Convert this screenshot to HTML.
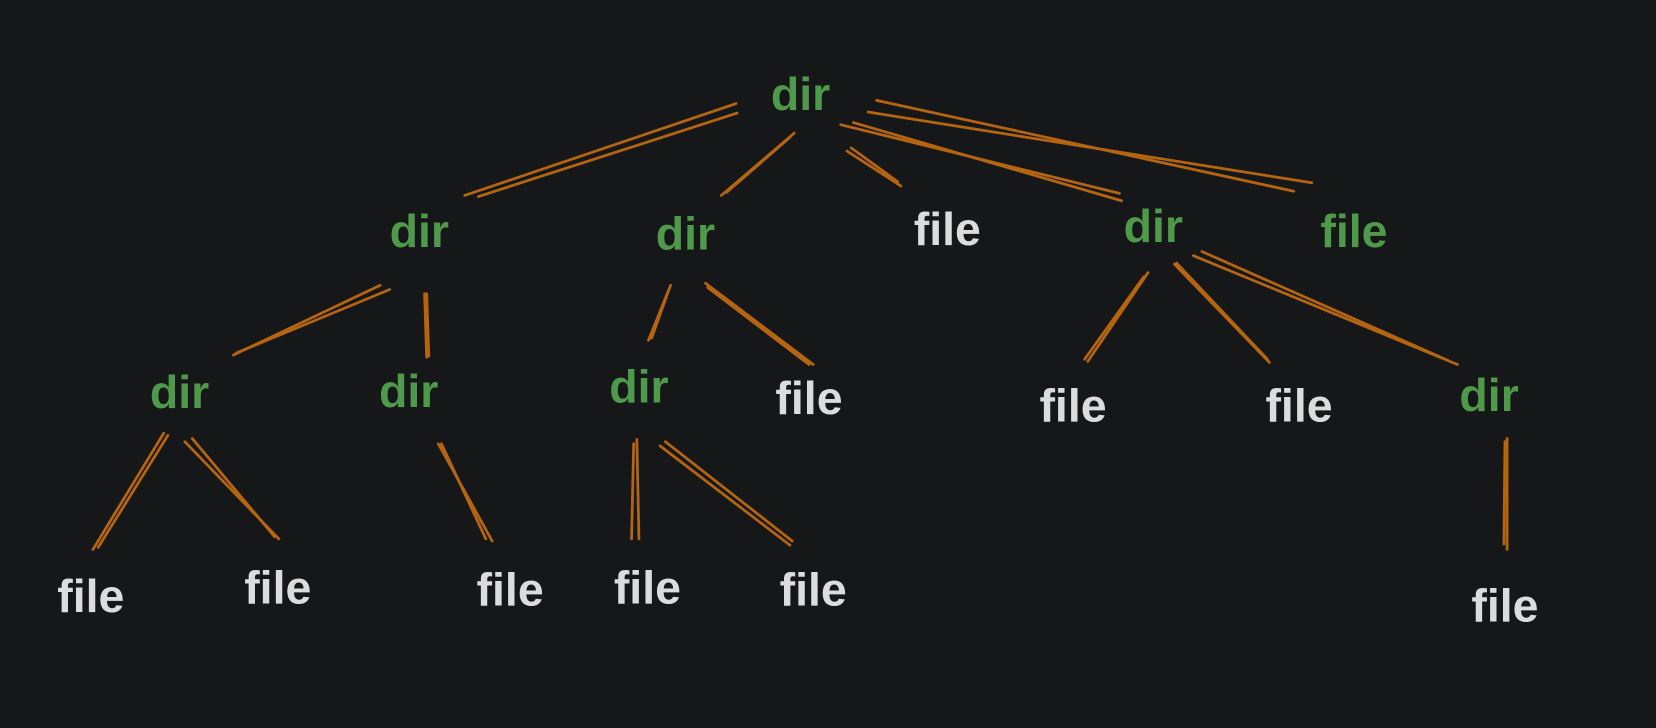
<!DOCTYPE html>
<html><head><style>
html,body{margin:0;padding:0;background:#161719;}
svg{display:block}
text{font-family:"Liberation Sans","DejaVu Sans",sans-serif;font-size:44px;font-weight:bold;text-anchor:middle}
.d{fill:#4f9a4a}.f{fill:#dcdcdc}
line{stroke:#b5650f;stroke-width:2.6;stroke-linecap:round}
</style></head><body>
<svg width="1656" height="728" viewBox="0 0 1568 689" preserveAspectRatio="none">
<rect width="1568" height="689" fill="#161719"/>
<g>
<line x1="697" y1="98" x2="440" y2="185"/><line x1="698" y1="107" x2="453" y2="186"/>
<line x1="752" y1="126" x2="683" y2="185"/><line x1="748" y1="130" x2="688" y2="182"/>
<line x1="802" y1="143" x2="853" y2="176"/><line x1="806" y1="140" x2="850" y2="172"/>
<line x1="796" y1="118" x2="1060" y2="183"/><line x1="808" y1="116" x2="1062" y2="190"/>
<line x1="822" y1="106" x2="1242" y2="173"/><line x1="830" y1="95" x2="1225" y2="181"/>
<line x1="360" y1="270" x2="221" y2="336"/><line x1="369" y1="274" x2="224" y2="334"/>
<line x1="404" y1="278" x2="406" y2="337"/><line x1="402" y1="278" x2="404" y2="338"/>
<line x1="635" y1="270" x2="614" y2="322"/><line x1="633" y1="275" x2="617" y2="320"/>
<line x1="668" y1="268" x2="770" y2="345"/><line x1="670" y1="272" x2="766" y2="345"/>
<line x1="1087" y1="258" x2="1030" y2="342"/><line x1="1083" y1="262" x2="1027" y2="340"/>
<line x1="1112" y1="250" x2="1202" y2="343"/><line x1="1114" y1="249" x2="1200" y2="340"/>
<line x1="1130" y1="242" x2="1380" y2="345"/><line x1="1138" y1="238" x2="1373" y2="342"/>
<line x1="155" y1="410" x2="88" y2="520"/><line x1="159" y1="412" x2="93" y2="518"/>
<line x1="175" y1="418" x2="264" y2="510"/><line x1="182" y1="415" x2="260" y2="508"/>
<line x1="415" y1="420" x2="466" y2="512"/><line x1="418" y1="420" x2="460" y2="510"/>
<line x1="600" y1="420" x2="598" y2="510"/><line x1="603" y1="416" x2="605" y2="510"/>
<line x1="625" y1="422" x2="748" y2="516"/><line x1="630" y1="418" x2="750" y2="512"/>
<line x1="1427" y1="415" x2="1427" y2="520"/><line x1="1425" y1="418" x2="1424" y2="515"/>
</g>
<text class="d" x="758" y="104">dir</text>
<text class="d" x="397" y="234">dir</text>
<text class="d" x="649" y="236">dir</text>
<text class="f" x="897" y="232">file</text>
<text class="d" x="1092" y="229">dir</text>
<text class="d" x="1282" y="234">file</text>
<text class="d" x="170" y="386">dir</text>
<text class="d" x="387" y="385">dir</text>
<text class="d" x="605" y="381">dir</text>
<text class="f" x="766" y="392">file</text>
<text class="f" x="1016" y="399">file</text>
<text class="f" x="1230" y="399">file</text>
<text class="d" x="1410" y="389">dir</text>
<text class="f" x="86" y="579">file</text>
<text class="f" x="263" y="571">file</text>
<text class="f" x="483" y="573">file</text>
<text class="f" x="613" y="571">file</text>
<text class="f" x="770" y="573">file</text>
<text class="f" x="1425" y="588">file</text>
</svg>
</body></html>
